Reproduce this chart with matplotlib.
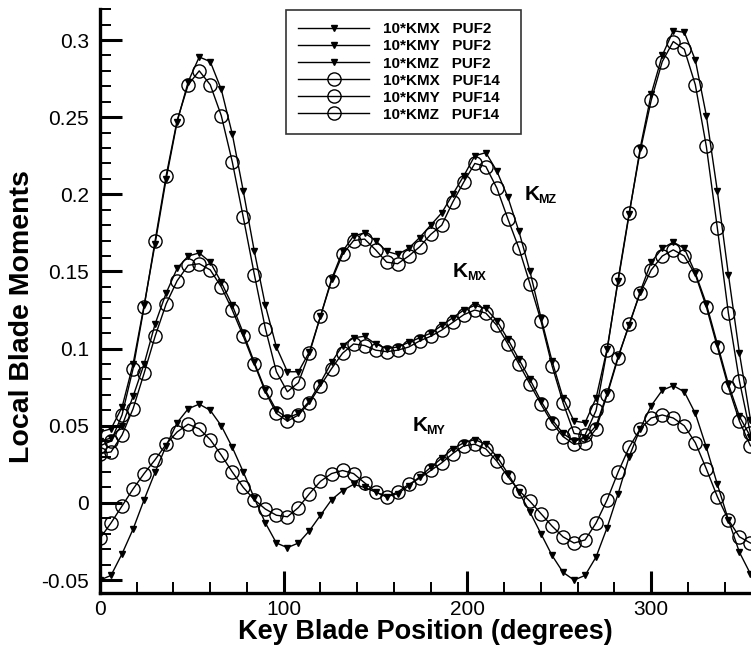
import matplotlib
matplotlib.use("Agg")
import matplotlib.pyplot as plt
from matplotlib.ticker import MultipleLocator, FuncFormatter

# blade position (degrees), one sample every 6 degrees
angle = list(range(0, 360, 6))

kmz_puf2 = [0.046, 0.048, 0.062, 0.090, 0.128, 0.168, 0.210, 0.247, 0.273, 0.289,
            0.286, 0.268, 0.239, 0.202, 0.163, 0.128, 0.101, 0.085, 0.085, 0.098,
            0.121, 0.145, 0.163, 0.173, 0.175, 0.170, 0.163, 0.161, 0.165, 0.172,
            0.180, 0.188, 0.200, 0.212, 0.225, 0.227, 0.215, 0.198, 0.176, 0.150,
            0.120, 0.092, 0.068, 0.053, 0.052, 0.068, 0.100, 0.144, 0.187, 0.230,
            0.265, 0.290, 0.306, 0.305, 0.287, 0.251, 0.202, 0.148, 0.097, 0.054]

kmz_puf14 = [0.037, 0.040, 0.057, 0.087, 0.127, 0.170, 0.212, 0.248, 0.271, 0.280,
             0.271, 0.251, 0.221, 0.185, 0.148, 0.113, 0.085, 0.072, 0.078, 0.097,
             0.121, 0.144, 0.161, 0.170, 0.171, 0.164, 0.156, 0.155, 0.160, 0.166,
             0.174, 0.180, 0.195, 0.208, 0.220, 0.218, 0.204, 0.184, 0.165, 0.142,
             0.118, 0.089, 0.065, 0.045, 0.044, 0.060, 0.099, 0.145, 0.188, 0.228,
             0.261, 0.286, 0.299, 0.294, 0.271, 0.231, 0.178, 0.123, 0.079, 0.045]

kmx_puf2 = [0.040, 0.042, 0.050, 0.069, 0.090, 0.116, 0.136, 0.152, 0.160, 0.162,
            0.156, 0.143, 0.128, 0.110, 0.091, 0.073, 0.060, 0.055, 0.058, 0.066,
            0.078, 0.091, 0.102, 0.107, 0.108, 0.103, 0.100, 0.101, 0.104, 0.107,
            0.110, 0.115, 0.120, 0.125, 0.128, 0.126, 0.118, 0.106, 0.093, 0.080,
            0.066, 0.054, 0.045, 0.040, 0.042, 0.050, 0.071, 0.095, 0.115, 0.137,
            0.156, 0.165, 0.169, 0.165, 0.149, 0.129, 0.103, 0.077, 0.056, 0.043]

kmx_puf14 = [0.032, 0.033, 0.044, 0.061, 0.084, 0.108, 0.129, 0.144, 0.154, 0.155,
             0.151, 0.140, 0.125, 0.108, 0.090, 0.072, 0.058, 0.053, 0.057, 0.065,
             0.076, 0.087, 0.097, 0.103, 0.102, 0.099, 0.098, 0.099, 0.101, 0.105,
             0.108, 0.112, 0.117, 0.122, 0.125, 0.123, 0.115, 0.103, 0.090, 0.077,
             0.064, 0.052, 0.043, 0.038, 0.039, 0.048, 0.070, 0.094, 0.116, 0.136,
             0.151, 0.160, 0.164, 0.160, 0.148, 0.127, 0.101, 0.075, 0.053, 0.037]

kmy_puf2 = [-0.050, -0.047, -0.033, -0.017, 0.002, 0.020, 0.037, 0.052, 0.061, 0.064,
            0.060, 0.050, 0.036, 0.020, 0.003, -0.013, -0.026, -0.029, -0.026, -0.018,
            -0.008, 0.002, 0.008, 0.012, 0.010, 0.007, 0.004, 0.006, 0.011, 0.017,
            0.023, 0.029, 0.035, 0.039, 0.041, 0.038, 0.030, 0.019, 0.007, -0.006,
            -0.020, -0.034, -0.045, -0.050, -0.047, -0.035, -0.016, 0.006, 0.030, 0.048,
            0.063, 0.073, 0.076, 0.072, 0.058, 0.036, 0.012, -0.011, -0.032, -0.046]

kmy_puf14 = [-0.023, -0.013, -0.002, 0.009, 0.019, 0.028, 0.038, 0.046, 0.051, 0.048,
             0.041, 0.031, 0.020, 0.010, 0.002, -0.004, -0.008, -0.009, -0.003, 0.006,
             0.014, 0.019, 0.021, 0.019, 0.013, 0.007, 0.004, 0.007, 0.012, 0.016,
             0.021, 0.026, 0.032, 0.037, 0.038, 0.035, 0.027, 0.017, 0.008, 0.001,
             -0.007, -0.015, -0.022, -0.026, -0.024, -0.013, 0.002, 0.020, 0.036, 0.048,
             0.055, 0.057, 0.055, 0.050, 0.039, 0.022, 0.004, -0.011, -0.022, -0.026]

plt.rcParams['font.family'] = ['Liberation Sans', 'DejaVu Sans']
plt.rcParams['axes.unicode_minus'] = False

fig = plt.figure(figsize=(7.51, 6.52), dpi=100)
ax = fig.add_axes([100 / 751, 59 / 652, 651 / 751, 584 / 652])

tri = dict(color='black', lw=1.0, marker='v', ms=4.5, mfc='black', mec='black')
circ = dict(color='black', lw=1.0, marker='o', ms=9.5, mfc='none', mec='black', mew=1.0)

ax.plot(angle, kmx_puf2, label='10*KMX   PUF2    ', **tri)
ax.plot(angle, kmy_puf2, label='10*KMY   PUF2    ', **tri)
ax.plot(angle, kmz_puf2, label='10*KMZ   PUF2    ', **tri)
ax.plot(angle, kmx_puf14, label='10*KMX   PUF14  ', **circ)
ax.plot(angle, kmy_puf14, label='10*KMY   PUF14  ', **circ)
ax.plot(angle, kmz_puf14, label='10*KMZ   PUF14  ', **circ)

ax.set_xlim(0, 354.3)
ax.set_ylim(-0.0584, 0.3201)

ax.xaxis.set_major_locator(MultipleLocator(100))
ax.xaxis.set_minor_locator(MultipleLocator(20))
ax.yaxis.set_major_locator(MultipleLocator(0.05))
ax.yaxis.set_minor_locator(MultipleLocator(0.01))
ax.yaxis.set_major_formatter(FuncFormatter(lambda v, p: '%g' % round(v, 3)))

ax.tick_params(which='both', direction='in', top=False, right=False, labelsize=15)
ax.tick_params(which='major', length=16, width=2.2)
ax.tick_params(which='minor', length=8, width=1.4)
ax.tick_params(axis='y', pad=8)
ax.tick_params(axis='x', pad=5)

for side in ['top', 'right']:
    ax.spines[side].set_visible(False)
for side in ['left', 'bottom']:
    ax.spines[side].set_linewidth(2.4)

ax.set_xlabel('Key Blade Position (degrees)', fontsize=19.5, fontweight='bold', labelpad=0)
ax.set_ylabel('Local Blade Moments', fontsize=20.5, fontweight='bold')
ax.yaxis.set_label_coords(-0.100, 0.474)

# curve labels: K with a small subscript
for x, y, sub in [(231, 0.200, 'MZ'), (192, 0.150, 'MX'), (170, 0.050, 'MY')]:
    ax.text(x, y, 'K', fontsize=15, fontweight='bold', ha='left', va='center')
    ax.annotate(sub, (x, y), xytext=(10, -4), textcoords='offset points',
                fontsize=9, fontweight='bold', ha='left', va='center')

leg = ax.legend(loc='upper left', bbox_to_anchor=(0.286, 0.998), numpoints=1,
                handlelength=4.6, labelspacing=0.2, borderpad=0.8,
                handletextpad=0.95, borderaxespad=0.0, fancybox=False, frameon=True,
                prop={'weight': 'bold', 'size': 11})
leg.get_frame().set_edgecolor('black')
leg.get_frame().set_linewidth(1.2)

fig.savefig('out.png', dpi=100)
